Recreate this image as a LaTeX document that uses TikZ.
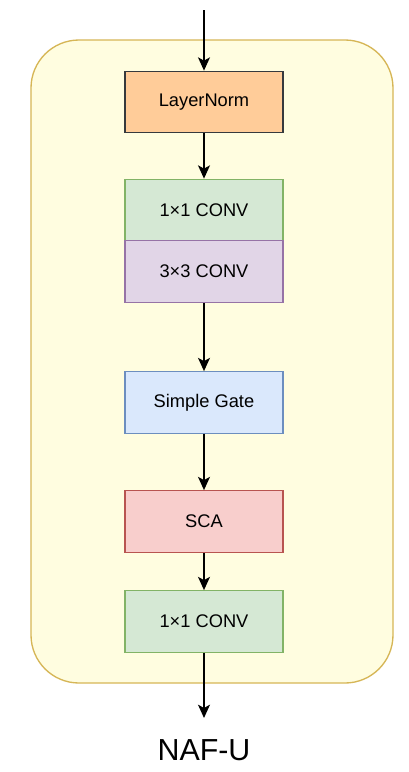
\documentclass[tikz,border=0pt]{standalone}
\usepackage{fontspec}
\setmainfont{Liberation Sans}
\usetikzlibrary{arrows.meta}
\definecolor{outerfill}{HTML}{FFFDE0}
\definecolor{outerdraw}{HTML}{D6B656}
\definecolor{lnfill}{HTML}{FFCC99}
\definecolor{lndraw}{HTML}{36393D}
\definecolor{gfill}{HTML}{D5E8D4}
\definecolor{gdraw}{HTML}{82B366}
\definecolor{pfill}{HTML}{E1D5E7}
\definecolor{pdraw}{HTML}{9673A6}
\definecolor{bfill}{HTML}{DAE8FC}
\definecolor{bdraw}{HTML}{6C8EBF}
\definecolor{rfill}{HTML}{F8CECC}
\definecolor{rdraw}{HTML}{B85450}
\begin{document}
\begin{tikzpicture}[x=0.75pt,y=-0.75pt,
  blk/.style={draw, line width=0.9pt, minimum width=158*0.75pt, minimum height=61.5*0.75pt, inner sep=0pt, font=\fontsize{13.7}{16}\selectfont},
  arr/.style={-{Stealth[length=10pt,width=9pt,inset=2.5pt]}, line width=1.1pt}]
\useasboundingbox (0,0) rectangle (408,772);
\draw[fill=outerfill, draw=outerdraw, line width=1pt, rounded corners=36pt] (31,40) rectangle (393,683);
\node[blk, fill=lnfill, draw=lndraw] (ln) at (204,102) {LayerNorm};
\node[blk, fill=gfill, draw=gdraw] (c1) at (204,210) {1×1 CONV};
\node[blk, fill=pfill, draw=pdraw] (c3) at (204,271.5) {3×3 CONV};
\node[blk, fill=bfill, draw=bdraw] (sg) at (204,402.5) {Simple Gate};
\node[blk, fill=rfill, draw=rdraw] (sca) at (204,521.5) {SCA};
\node[blk, fill=gfill, draw=gdraw] (c1b) at (204,621.5) {1×1 CONV};
\coordinate (top) at (204,10);
\coordinate (bot) at (204,718);
\node[font=\fontsize{22.8}{26}\selectfont] (lbl) at (204,750) {NAF-U};
\draw[arr] (top) -- (ln.north);
\draw[arr] (ln.south) -- (c1.north);
\draw[arr] (c3.south) -- (sg.north);
\draw[arr] (sg.south) -- (sca.north);
\draw[arr] (sca.south) -- (c1b.north);
\draw[arr] (c1b.south) -- (bot);
\end{tikzpicture}
\end{document}
